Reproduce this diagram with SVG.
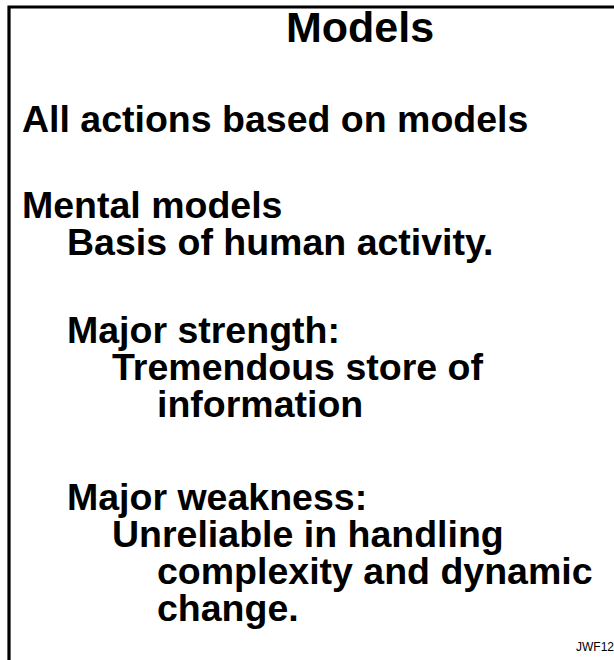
<svg xmlns="http://www.w3.org/2000/svg" width="614" height="660" viewBox="0 0 614 660">
<style>
.t{font-family:"Liberation Sans",Arial,Helvetica,sans-serif;font-weight:bold;fill:#000;font-size:37.5px}
.title{font-size:43px}
.small{font-family:"Liberation Sans",Arial,Helvetica,sans-serif;font-size:12px;fill:#000}
.frame{fill:none;stroke:#000;stroke-width:3.2}
</style>
<rect x="0" y="0" width="614" height="660" fill="#fff"/>
<path class="frame" d="M9,660 V7 H614"/>
<g id="title"><text class="t title" x="286" y="42">Models</text></g>
<g id="body">
<text class="t" x="22" y="132">All actions based on models</text>
<text class="t" x="22" y="218">Mental models</text>
<text class="t" x="67" y="255">Basis of human activity.</text>
<text class="t" x="67" y="343">Major strength:</text>
<text class="t" x="112" y="380">Tremendous store of</text>
<text class="t" x="157" y="417">information</text>
<text class="t" x="67" y="510">Major weakness:</text>
<text class="t" x="112" y="547">Unreliable in handling</text>
<text class="t" x="157" y="584">complexity and dynamic</text>
<text class="t" x="157" y="621">change.</text>
</g>
<g id="footer"><text class="small" x="576" y="651">JWF12</text></g>
</svg>
